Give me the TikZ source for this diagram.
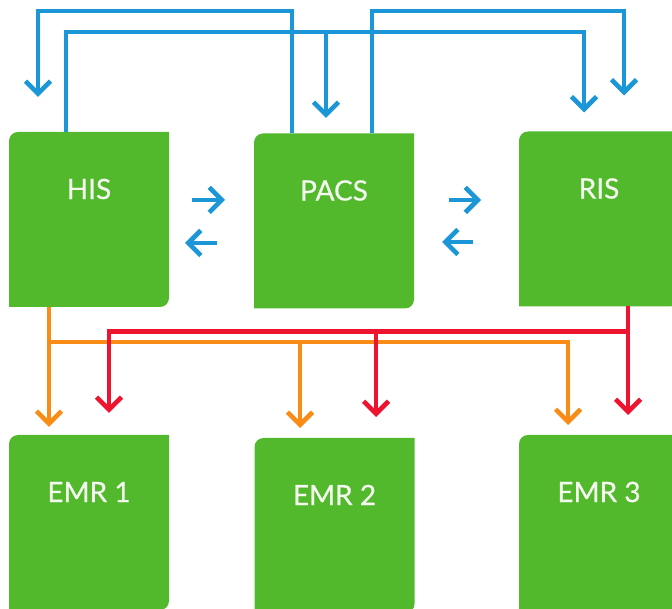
\documentclass[tikz,border=0pt]{standalone}
\usepackage{fontspec}
\newfontfamily\boxfont[FakeBold=0.6]{Lato}
\usetikzlibrary{arrows.meta,calc,backgrounds}
\definecolor{boxgreen}{HTML}{52B82C}
\definecolor{lineblue}{HTML}{1B96D6}
\definecolor{lineorange}{HTML}{F98C16}
\definecolor{linered}{HTML}{EE1430}
\definecolor{boxwhite}{HTML}{F4F8EE}
\tikzset{
  sysbox/.style={minimum width=160pt, minimum height=175pt, inner sep=0pt, outer sep=0pt},
  boxtext/.style={text=boxwhite, font=\boxfont\fontsize{28}{32}\selectfont, anchor=center, yshift=-57pt},
  flow/.style={line width=4.6pt, -{Straight Barb[length=12.5pt,width=25pt]}},
  bluearrow/.style={flow, draw=lineblue},
  orangearrow/.style={flow, draw=lineorange},
  redarrow/.style={flow, draw=linered}
}
\begin{document}
\begin{tikzpicture}[x=1pt,y=1pt]
\useasboundingbox (0,0) rectangle (672,608);
% boxes
\node[sysbox, label={[boxtext]north:HIS}]   (his)  at (89,388.5) {};
\node[sysbox, label={[boxtext]north:PACS}]  (pacs) at (334,387) {};
\node[sysbox, label={[boxtext]north:RIS}]   (ris)  at (599,389) {};
\node[sysbox, label={[boxtext]north:EMR 1}] (emr1) at (89,85.5) {};
\node[sysbox, label={[boxtext]north:EMR 2}] (emr2) at (334.5,82.5) {};
\node[sysbox, label={[boxtext]north:EMR 3}] (emr3) at (599,85.5) {};
\begin{scope}[on background layer]
  \clip (0,0) rectangle (672,608);
  \foreach \n in {his,pacs,ris,emr1,emr2,emr3}
    \fill[boxgreen] (\n.south west) -- ([yshift=-9pt]\n.north west)
      arc[start angle=180,end angle=90,radius=9pt] -- (\n.north east)
      -- ([yshift=9pt]\n.south east)
      arc[start angle=0,end angle=-90,radius=9pt] -- cycle;
\end{scope}
% blue connectors on top
\draw[bluearrow, shorten >=19pt] ([xshift=-23pt]his.north) -- ++(0,100) coordinate (atop) -| ([xshift=-15pt]ris.north);
\coordinate (pacsA) at ([xshift=-8pt]pacs.north);
\draw[bluearrow, shorten >=15.5pt] (pacsA |- atop) -- (pacsA);
\draw[bluearrow, shorten >=35pt] ([xshift=-42pt]pacs.north) -- ++(0,122.5) -| ([xshift=-51pt]his.north);
\draw[bluearrow, shorten >=36pt] ([xshift=38pt]pacs.north) -- ++(0,122.5) -| ([xshift=25pt]ris.north);
% blue arrows between boxes
\draw[bluearrow] ($(his.east)+(23,19.5)$) -- ($(pacs.west)+(-29,21)$);
\draw[bluearrow] ($(pacs.west)+(-37,-22)$) -- ($(his.east)+(16,-23.5)$);
\draw[bluearrow] ($(pacs.east)+(35,21)$) -- ($(ris.west)+(-38,19)$);
\draw[bluearrow] ($(ris.west)+(-46,-23)$) -- ($(pacs.east)+(28,-21)$);
% orange connectors
\draw[orangearrow, shorten >=8pt] ([xshift=-40pt]his.south) -- ([xshift=-40pt]emr1.north);
\coordinate (ojoin) at ($(his.south)+(-40,-35)$);
\draw[orangearrow, shorten >=10pt] (ojoin) -| ([xshift=-31pt]emr3.north);
\coordinate (emrtwoo) at ([xshift=-34.5pt]emr2.north);
\draw[orangearrow, shorten >=10pt] (emrtwoo |- ojoin) -- (emrtwoo);
% red connectors
\draw[redarrow, shorten >=20pt] ([xshift=29pt]ris.south) -- ([xshift=29pt]emr3.north);
\coordinate (rjoin) at ($(ris.south)+(29,-25)$);
\draw[redarrow, shorten >=22pt] (rjoin) -| ([xshift=20pt]emr1.north);
\coordinate (emrtwor) at ([xshift=41.5pt]emr2.north);
\draw[redarrow, shorten >=21pt] (emrtwor |- rjoin) -- (emrtwor);
\end{tikzpicture}
\end{document}
